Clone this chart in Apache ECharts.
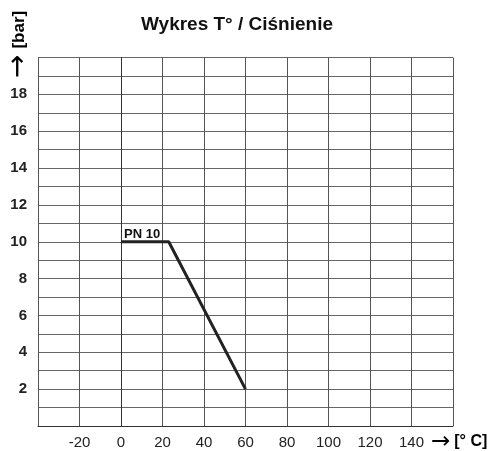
<!DOCTYPE html>
<html><head><meta charset="utf-8">
<script src="https://cdn.jsdelivr.net/npm/echarts@6/dist/echarts.min.js"></script>
<style>html,body{margin:0;padding:0;background:#fff}#c{width:492px;height:451px}</style>
</head><body><div id="c"></div>
<script>
const title = 'Wykres T° / Ciśnienie';
const xUnit = '[° C]';
const yUnit = '[bar]';
const arrow = '→';
const seriesName = 'PN 10';
const temps = [0, 23, 60];
const pressures = [10, 10, 2];
const xHiddenTicks = [-40, 160];
const yHiddenTicks = [0, 20];

const chart = echarts.init(document.getElementById('c'));
const font = '"Liberation Sans", Arial, Helvetica, sans-serif';
const xRich = {
  a: { fontFamily: '"DejaVu Sans"', fontSize: 23, color: '#111', padding: [0, 4, 0, 0] },
  b: { fontFamily: font, fontSize: 16, fontWeight: 'bold', color: '#111' }
};
const yRich = {
  a: { fontFamily: '"DejaVu Sans"', fontSize: 28, color: '#111', padding: [0, 6, 0, 0] },
  b: { fontFamily: font, fontSize: 17, fontWeight: 'bold', color: '#111' }
};
chart.setOption({
  animation: false,
  title: { text: title, left: 232, top: 10, textAlign: 'center',
    textStyle: { fontFamily: font, fontSize: 19, fontWeight: 'bold', color: '#111' } },
  grid: { left: 38, right: 39, top: 57.5, bottom: 25, containLabel: false },
  xAxis: {
    type: 'value', min: -40, max: 160, interval: 20,
    axisLine: { show: true, lineStyle: { color: '#333', width: 1 } },
    axisTick: { show: false },
    splitLine: { show: true, lineStyle: { color: '#555', width: 1 } },
    axisLabel: { margin: 9, fontFamily: font, fontSize: 15, color: '#222',
      formatter: v => xHiddenTicks.includes(v) ? '' : String(v) }
  },
  yAxis: {
    type: 'value', min: 0, max: 20, interval: 1,
    axisLine: { show: true, lineStyle: { color: '#333', width: 1 } },
    axisTick: { show: false },
    splitLine: { show: true, lineStyle: { color: '#666', width: 1 } },
    axisLabel: { margin: 11, fontFamily: font, fontSize: 15, fontWeight: 'bold', color: '#222',
      formatter: v => (v % 2 === 0 && !yHiddenTicks.includes(v)) ? String(v) : '' }
  },
  graphic: [{
    type: 'text', x: 431, y: 442,
    style: { text: '{a|' + arrow + '}{b|' + xUnit + '}', rich: xRich, verticalAlign: 'middle' }
  }, {
    type: 'text', x: 19, y: 78, rotation: Math.PI / 2,
    style: { text: '{a|' + arrow + '}{b|' + yUnit + '}', rich: yRich, verticalAlign: 'middle' }
  }],
  series: [{
    type: 'line', name: seriesName,
    data: temps.map((t, i) => [t, pressures[i]]),
    showSymbol: false, symbol: 'none',
    lineStyle: { color: '#222', width: 3 },
    markPoint: {
      symbol: 'circle', symbolSize: 0,
      data: [{ coord: [temps[0], pressures[0]] }],
      label: { show: true, formatter: seriesName, position: 'insideBottomLeft', offset: [-2, 4],
        fontFamily: font, fontSize: 13, fontWeight: 'bold', color: '#111' }
    }
  }]
});
</script></body></html>
